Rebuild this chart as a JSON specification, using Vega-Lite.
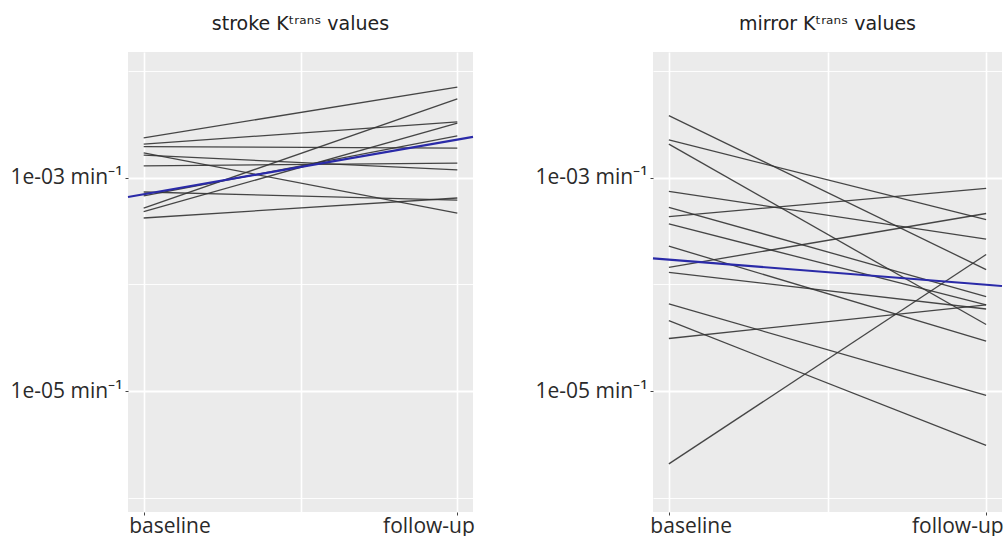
{
  "$schema": "https://vega.github.io/schema/vega-lite/v6.json",
  "padding": {"left": 5, "top": 15, "right": 0, "bottom": 0},
  "background": "white",
  "spacing": 52,
  "config": {
    "view": {"fill": "#EBEBEB", "stroke": null},
    "font": "Open Sans",
    "title": {"font": "DejaVu Sans", "fontSize": 19, "fontWeight": "normal", "color": "#222222", "offset": 18, "anchor": "middle"},
    "axis": {"domain": false, "labelFont": "Open Sans", "labelFontSize": 21, "labelColor": "#2a2a2a", "tickColor": "#444444", "tickSize": 3, "gridColor": "#FFFFFF", "title": null, "labelOverlap": false, "labelFlush": false}
  },
  "datasets": {
    "lines": [
      {"panel": "stroke", "id": 1, "time": 1, "k": 0.00238}, {"panel": "stroke", "id": 1, "time": 2, "k": 0.00714},
      {"panel": "stroke", "id": 2, "time": 1, "k": 0.00208}, {"panel": "stroke", "id": 2, "time": 2, "k": 0.00336},
      {"panel": "stroke", "id": 3, "time": 1, "k": 0.00197}, {"panel": "stroke", "id": 3, "time": 2, "k": 0.00191},
      {"panel": "stroke", "id": 4, "time": 1, "k": 0.00172}, {"panel": "stroke", "id": 4, "time": 2, "k": 0.000469},
      {"panel": "stroke", "id": 5, "time": 1, "k": 0.00164}, {"panel": "stroke", "id": 5, "time": 2, "k": 0.00119},
      {"panel": "stroke", "id": 6, "time": 1, "k": 0.00130}, {"panel": "stroke", "id": 6, "time": 2, "k": 0.00138},
      {"panel": "stroke", "id": 7, "time": 1, "k": 0.000522}, {"panel": "stroke", "id": 7, "time": 2, "k": 0.00552},
      {"panel": "stroke", "id": 8, "time": 1, "k": 0.000483}, {"panel": "stroke", "id": 8, "time": 2, "k": 0.00328},
      {"panel": "stroke", "id": 9, "time": 1, "k": 0.000421}, {"panel": "stroke", "id": 9, "time": 2, "k": 0.000649},
      {"panel": "stroke", "id": 10, "time": 1, "k": 0.000678}, {"panel": "stroke", "id": 10, "time": 2, "k": 0.00248},
      {"panel": "stroke", "id": 11, "time": 1, "k": 0.000739}, {"panel": "stroke", "id": 11, "time": 2, "k": 0.000621},
      {"panel": "mirror", "id": 1, "time": 1, "k": 0.00385}, {"panel": "mirror", "id": 1, "time": 2, "k": 0.000138},
      {"panel": "mirror", "id": 2, "time": 1, "k": 0.00228}, {"panel": "mirror", "id": 2, "time": 2, "k": 0.000406},
      {"panel": "mirror", "id": 3, "time": 1, "k": 0.00208}, {"panel": "mirror", "id": 3, "time": 2, "k": 0.0000421},
      {"panel": "mirror", "id": 4, "time": 1, "k": 0.00075}, {"panel": "mirror", "id": 4, "time": 2, "k": 0.000267},
      {"panel": "mirror", "id": 5, "time": 1, "k": 0.000531}, {"panel": "mirror", "id": 5, "time": 2, "k": 0.0000771},
      {"panel": "mirror", "id": 6, "time": 1, "k": 0.000434}, {"panel": "mirror", "id": 6, "time": 2, "k": 0.0008},
      {"panel": "mirror", "id": 7, "time": 1, "k": 0.00037}, {"panel": "mirror", "id": 7, "time": 2, "k": 0.0000643},
      {"panel": "mirror", "id": 8, "time": 1, "k": 0.000229}, {"panel": "mirror", "id": 8, "time": 2, "k": 0.0000294},
      {"panel": "mirror", "id": 9, "time": 1, "k": 0.000145}, {"panel": "mirror", "id": 9, "time": 2, "k": 0.000464},
      {"panel": "mirror", "id": 10, "time": 1, "k": 0.00013}, {"panel": "mirror", "id": 10, "time": 2, "k": 0.0000589},
      {"panel": "mirror", "id": 11, "time": 1, "k": 0.0000656}, {"panel": "mirror", "id": 11, "time": 2, "k": 0.00000908},
      {"panel": "mirror", "id": 12, "time": 1, "k": 0.0000457}, {"panel": "mirror", "id": 12, "time": 2, "k": 0.00000308},
      {"panel": "mirror", "id": 13, "time": 1, "k": 0.0000311}, {"panel": "mirror", "id": 13, "time": 2, "k": 0.0000643},
      {"panel": "mirror", "id": 14, "time": 1, "k": 0.00000207}, {"panel": "mirror", "id": 14, "time": 2, "k": 0.000191}
    ],
    "fit": [
      {"panel": "stroke", "time": 0.95, "k": 0.000663}, {"panel": "stroke", "time": 2.05, "k": 0.00243},
      {"panel": "mirror", "time": 0.95, "k": 0.000176}, {"panel": "mirror", "time": 2.05, "k": 0.0000968}
    ]
  },
  "hconcat": [
    {
      "title": "stroke Kᵗʳᵃⁿˢ values",
      "width": 345, "height": 460,
      "layer": [
        {
          "data": {"name": "lines"},
          "transform": [{"filter": "datum.panel === 'stroke'"}],
          "mark": {"type": "line", "color": "#333333", "strokeWidth": 1.3, "opacity": 0.9},
          "encoding": {
            "x": {"field": "time", "type": "quantitative",
              "scale": {"domain": [0.95, 2.05], "nice": false, "zero": false},
              "axis": {"values": [1, 1.5, 2],
                "labelExpr": "datum.value == 1 ? 'baseline' : (datum.value == 2 ? 'follow-up' : '')",
                "labelAlign": {"condition": {"test": "datum.value < 1.5", "value": "left"}, "value": "right"},
                "labelOffset": {"condition": {"test": "datum.value < 1.5", "value": -15}, "value": 17},
                "tickOpacity": {"condition": {"test": "datum.value == 1.5", "value": 0}, "value": 1},
                "gridWidth": 1.6, "labelPadding": 0}},
            "y": {"field": "k", "type": "quantitative",
              "scale": {"type": "log", "domain": [0.000000731, 0.01524], "nice": false},
              "axis": {"values": [0.01, 0.001, 0.0001, 0.00001, 0.000001],
                "labelExpr": "abs(log(datum.value)/LN10 + 3) < 0.1 ? '1e-03 min⁻¹' : (abs(log(datum.value)/LN10 + 5) < 0.1 ? '1e-05 min⁻¹' : '')",
                "gridWidth": {"condition": {"test": "abs(log(datum.value)/LN10 + 3) < 0.1 || abs(log(datum.value)/LN10 + 5) < 0.1", "value": 2}, "value": 0.9},
                "tickOpacity": {"condition": {"test": "abs(log(datum.value)/LN10 + 3) < 0.1 || abs(log(datum.value)/LN10 + 5) < 0.1", "value": 1}, "value": 0},
                "minExtent": 123, "maxExtent": 123, "labelPadding": 3}},
            "detail": {"field": "id", "type": "nominal"}
          }
        },
        {
          "data": {"name": "fit"},
          "transform": [{"filter": "datum.panel === 'stroke'"}],
          "mark": {"type": "line", "color": "#2a2aa8", "strokeWidth": 2.2},
          "encoding": {
            "x": {"field": "time", "type": "quantitative"},
            "y": {"field": "k", "type": "quantitative"}
          }
        }
      ]
    },
    {
      "title": "mirror Kᵗʳᵃⁿˢ values",
      "width": 349, "height": 460,
      "layer": [
        {
          "data": {"name": "lines"},
          "transform": [{"filter": "datum.panel === 'mirror'"}],
          "mark": {"type": "line", "color": "#333333", "strokeWidth": 1.3, "opacity": 0.9},
          "encoding": {
            "x": {"field": "time", "type": "quantitative",
              "scale": {"domain": [0.95, 2.05], "nice": false, "zero": false},
              "axis": {"values": [1, 1.5, 2],
                "labelExpr": "datum.value == 1 ? 'baseline' : (datum.value == 2 ? 'follow-up' : '')",
                "labelAlign": {"condition": {"test": "datum.value < 1.5", "value": "left"}, "value": "right"},
                "labelOffset": {"condition": {"test": "datum.value < 1.5", "value": -19}, "value": 17},
                "tickOpacity": {"condition": {"test": "datum.value == 1.5", "value": 0}, "value": 1},
                "gridWidth": 1.6, "labelPadding": 0}},
            "y": {"field": "k", "type": "quantitative",
              "scale": {"type": "log", "domain": [0.000000731, 0.01524], "nice": false},
              "axis": {"values": [0.01, 0.001, 0.0001, 0.00001, 0.000001],
                "labelExpr": "abs(log(datum.value)/LN10 + 3) < 0.1 ? '1e-03 min⁻¹' : (abs(log(datum.value)/LN10 + 5) < 0.1 ? '1e-05 min⁻¹' : '')",
                "gridWidth": {"condition": {"test": "abs(log(datum.value)/LN10 + 3) < 0.1 || abs(log(datum.value)/LN10 + 5) < 0.1", "value": 2}, "value": 0.9},
                "tickOpacity": {"condition": {"test": "abs(log(datum.value)/LN10 + 3) < 0.1 || abs(log(datum.value)/LN10 + 5) < 0.1", "value": 1}, "value": 0},
                "minExtent": 123, "maxExtent": 123, "labelPadding": 3}},
            "detail": {"field": "id", "type": "nominal"}
          }
        },
        {
          "data": {"name": "fit"},
          "transform": [{"filter": "datum.panel === 'mirror'"}],
          "mark": {"type": "line", "color": "#2a2aa8", "strokeWidth": 2.2},
          "encoding": {
            "x": {"field": "time", "type": "quantitative"},
            "y": {"field": "k", "type": "quantitative"}
          }
        }
      ]
    }
  ]
}
